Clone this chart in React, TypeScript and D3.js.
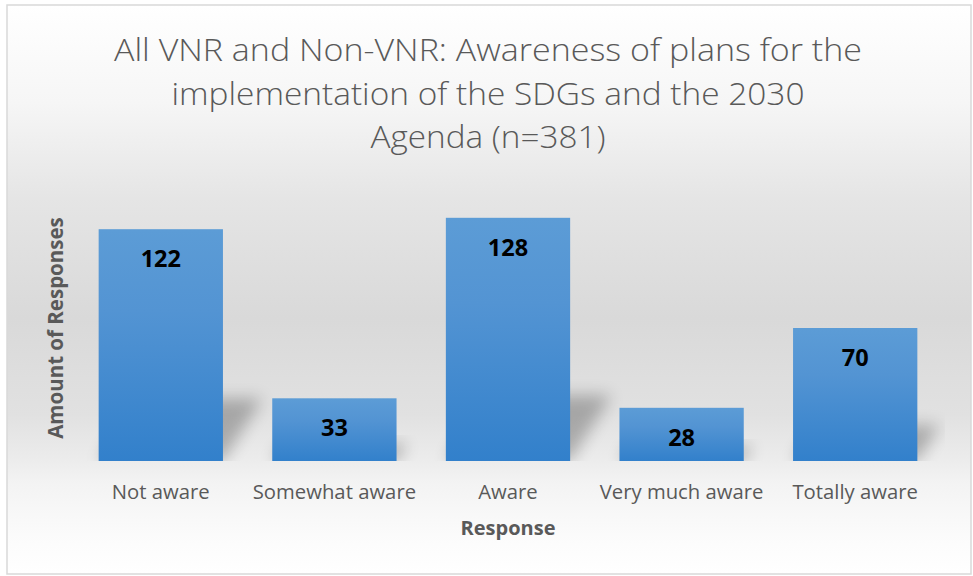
import React from "react";
import * as d3 from "d3";

const categories: string[] = ["Not aware", "Somewhat aware", "Aware", "Very much aware", "Totally aware"];
const responses: number[] = [122, 33, 128, 28, 70];
const titleLines: string[] = [
  "All VNR and Non-VNR: Awareness of plans for the",
  "implementation of the SDGs and the 2030",
  "Agenda (n=381)",
];
const yAxisTitle = "Amount of Responses";
const xAxisTitle = "Response";

const W = 973;
const H = 576;

export default function App() {
  const plot = { left: 74, right: 942, top: 195, bottom: 461 };
  const x = d3
    .scaleBand<string>()
    .domain(categories)
    .range([plot.left, plot.right])
    .paddingInner(0.284)
    .paddingOuter(0.142);
  const y = d3.scaleLinear().domain([0, 140]).range([plot.bottom, plot.top]);

  const titleWidths = [748, 633, 235];
  const font = "'Open Sans', 'DejaVu Sans', sans-serif";

  return (
    <svg
      width={W}
      height={H}
      viewBox={`0 0 ${W} ${H}`}
      style={{ position: "absolute", left: 0, top: 0, display: "block" }}
    >
      <defs>
        <linearGradient id="bg" x1="0" y1="0" x2="0" y2="1">
          <stop offset="0" stopColor="#ffffff" />
          <stop offset="0.17" stopColor="#f6f6f6" />
          <stop offset="0.34" stopColor="#e5e5e5" />
          <stop offset="0.55" stopColor="#d9d9d9" />
          <stop offset="0.72" stopColor="#e1e1e1" />
          <stop offset="0.8" stopColor="#ececec" />
          <stop offset="0.84" stopColor="#f3f3f3" />
          <stop offset="0.93" stopColor="#fbfbfb" />
          <stop offset="1" stopColor="#ffffff" />
        </linearGradient>
        <linearGradient id="barGrad" x1="0" y1="0" x2="0" y2="1">
          <stop offset="0" stopColor="#5c9cd6" />
          <stop offset="0.35" stopColor="#5394d3" />
          <stop offset="1" stopColor="#3280cb" />
        </linearGradient>
        <filter id="blur" x="-50%" y="-50%" width="200%" height="200%">
          <feGaussianBlur stdDeviation="8" />
        </filter>
        <clipPath id="plotClip">
          <rect x={plot.left} y={0} width={945 - plot.left} height={plot.bottom} />
        </clipPath>
      </defs>

      <rect x={7} y={5} width={964} height={569} fill="url(#bg)" stroke="#d9d9d9" strokeWidth={1.5} />

      {/* title */}
      <g fill="#595959" fontFamily={font} fontSize={32} fontWeight={350} textAnchor="middle">
        {titleLines.map((t, i) => (
          <text
            key={i}
            x={488}
            y={61 + i * 43.5}
            textLength={titleWidths[i]}
            lengthAdjust="spacingAndGlyphs"
          >
            {t}
          </text>
        ))}
      </g>

      {/* perspective shadows */}
      <g clipPath="url(#plotClip)">
        {categories.map((c, i) => {
          const x0 = x(c)!;
          const x1 = x0 + x.bandwidth();
          const b = y(0);
          const h = y(0) - y(responses[i]);
          const dx = h * 0.17;
          const dy = h * 0.27;
          const pts = [
            [x0, b],
            [x1, b],
            [x1 + dx, b - dy],
            [x0 + dx, b - dy],
          ]
            .map((p) => p.join(","))
            .join(" ");
          return <polygon key={c} points={pts} fill="#000" opacity={0.26} filter="url(#blur)" />;
        })}
      </g>

      {/* bars */}
      {categories.map((c, i) => (
        <rect
          key={c}
          x={x(c)!}
          y={y(responses[i])}
          width={x.bandwidth()}
          height={y(0) - y(responses[i])}
          fill="url(#barGrad)"
        />
      ))}

      {/* data labels */}
      <g fontFamily={font} fontSize={23.5} fontWeight={700} fill="#000" textAnchor="middle">
        {categories.map((c, i) => (
          <text key={c} x={x(c)! + x.bandwidth() / 2} y={y(responses[i]) + 38}>
            {responses[i]}
          </text>
        ))}
      </g>

      {/* category labels */}
      <g fontFamily={font} fontSize={20.3} fill="#595959" textAnchor="middle">
        {categories.map((c) => (
          <text key={c} x={x(c)! + x.bandwidth() / 2} y={499}>
            {c}
          </text>
        ))}
      </g>

      {/* axis titles */}
      <text
        x={508}
        y={535}
        fontFamily={font}
        fontSize={20}
        fontWeight={700}
        fill="#595959"
        textAnchor="middle"
      >
        {xAxisTitle}
      </text>
      <text
        transform={`translate(63, 328) rotate(-90)`}
        x={0}
        y={0}
        fontFamily={font}
        fontSize={20.5}
        fontWeight={700}
        fill="#595959"
        textAnchor="middle"
      >
        {yAxisTitle}
      </text>
    </svg>
  );
}
